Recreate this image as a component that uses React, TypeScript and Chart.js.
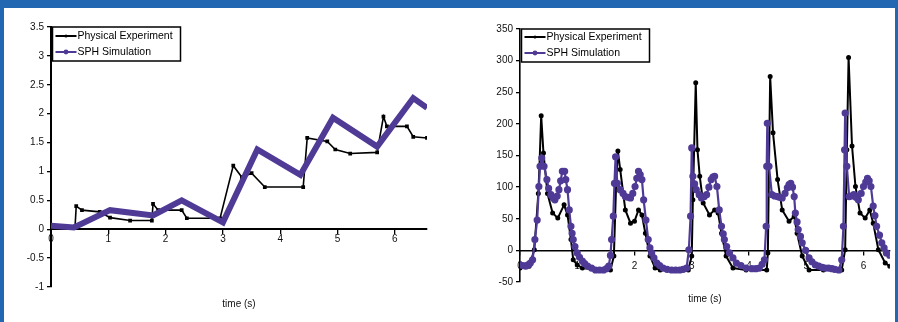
import React, { useEffect, useRef } from "react";
import { Chart, registerables } from "chart.js";

Chart.register(...registerables);

// ---------- Left chart: displacement ----------
const dispExpTime = [0, 0.42, 0.44, 0.54, 0.85, 1.03, 1.38, 1.76, 1.78, 1.87, 2.28, 2.37, 2.95, 3.18, 3.33, 3.5, 3.73, 4.4, 4.47, 4.82, 4.96, 5.22, 5.69, 5.8, 5.86, 6.21, 6.32, 6.56];
const dispExpValue = [0.05, 0.05, 0.4, 0.33, 0.3, 0.2, 0.15, 0.15, 0.44, 0.33, 0.33, 0.19, 0.19, 1.1, 0.9, 0.97, 0.73, 0.73, 1.58, 1.52, 1.38, 1.31, 1.33, 1.95, 1.78, 1.78, 1.6, 1.58];
const dispSimTime = [0, 0.4, 1.03, 1.78, 2.28, 3.0, 3.6, 4.35, 4.92, 5.69, 6.32, 6.56];
const dispSimValue = [0.06, 0.03, 0.33, 0.24, 0.5, 0.12, 1.38, 0.94, 1.93, 1.43, 2.27, 2.1];
const dispYTicks = [-1, -0.5, 0, 0.5, 1, 1.5, 2, 2.5, 3, 3.5];
const dispXTicks = [0, 1, 2, 3, 4, 5, 6];

// ---------- Right chart: pressure ----------
const presExpTime = [0, 0.16, 0.25, 0.32, 0.34, 0.37, 0.41, 0.48, 0.57, 0.66, 0.77, 0.83, 0.89, 0.93, 1.0, 1.09, 1.3, 1.58, 1.64, 1.68, 1.71, 1.75, 1.84, 1.93, 2.0, 2.07, 2.13, 2.19, 2.27, 2.36, 2.45, 2.7, 2.94, 3.0, 3.02, 3.07, 3.1, 3.14, 3.2, 3.31, 3.4, 3.46, 3.52, 3.6, 3.72, 3.95, 4.31, 4.33, 4.35, 4.37, 4.42, 4.5, 4.58, 4.7, 4.79, 4.84, 4.93, 5.05, 5.3, 5.62, 5.68, 5.71, 5.74, 5.8, 5.86, 5.94, 6.03, 6.11, 6.17, 6.26, 6.38, 6.46];
const presExpValue = [-28, -25, 1, 90, 133, 213, 154, 90, 59, 51, 72, 56, 17, -15, -23, -28, -30, -31, -9, 106, 157, 128, 64, 43, 46, 64, 56, 27, -9, -28, -31, -31, -31, -9, 80, 265, 159, 117, 75, 56, 64, 59, 27, -9, -28, -31, -31, -4, 133, 275, 186, 112, 64, 46, 54, 27, -9, -31, -31, -31, 1, 159, 305, 165, 101, 59, 51, 64, 43, 1, -20, -25];
const presSimTime = [0, 0.05, 0.1, 0.14, 0.18, 0.22, 0.26, 0.3, 0.33, 0.35, 0.38, 0.42, 0.47, 0.5, 0.54, 0.58, 0.61, 0.65, 0.68, 0.71, 0.74, 0.78, 0.8, 0.83, 0.86, 0.89, 0.91, 0.93, 0.96, 1.0, 1.04, 1.09, 1.13, 1.18, 1.25, 1.32, 1.39, 1.46, 1.51, 1.55, 1.58, 1.6, 1.63, 1.65, 1.67, 1.7, 1.75, 1.8, 1.84, 1.89, 1.93, 1.97, 2.01, 2.04, 2.07, 2.1, 2.13, 2.16, 2.2, 2.24, 2.27, 2.3, 2.34, 2.39, 2.44, 2.5, 2.57, 2.65, 2.72, 2.79, 2.85, 2.91, 2.95, 2.98, 3.0, 3.02, 3.05, 3.08, 3.13, 3.17, 3.22, 3.26, 3.3, 3.34, 3.37, 3.4, 3.44, 3.48, 3.52, 3.55, 3.57, 3.61, 3.66, 3.72, 3.78, 3.86, 3.95, 4.05, 4.12, 4.18, 4.23, 4.27, 4.3, 4.31, 4.32, 4.35, 4.4, 4.45, 4.5, 4.54, 4.58, 4.63, 4.67, 4.7, 4.73, 4.76, 4.79, 4.81, 4.84, 4.86, 4.9, 4.93, 4.99, 5.05, 5.1, 5.16, 5.22, 5.28, 5.33, 5.39, 5.45, 5.5, 5.57, 5.62, 5.65, 5.67, 5.68, 5.71, 5.75, 5.79, 5.83, 5.87, 5.91, 5.96, 6.0, 6.04, 6.07, 6.1, 6.13, 6.17, 6.2, 6.23, 6.28, 6.32, 6.36, 6.4, 6.46];
const presSimValue = [-23, -24, -25, -23, -20, -15, 17, 48, 101, 133, 146, 133, 112, 98, 88, 83, 80, 86, 96, 110, 125, 125, 112, 96, 64, 38, 27, 17, 6, -4, -11, -17, -21, -25, -28, -31, -31, -31, -29, -25, -8, 17, 54, 106, 148, 106, 96, 90, 85, 84, 83, 90, 101, 114, 125, 120, 112, 80, 48, 17, 4, -4, -12, -20, -24, -28, -30, -31, -31, -31, -30, -28, 1, 54, 162, 117, 105, 96, 88, 83, 85, 88, 100, 112, 116, 117, 101, 64, 38, 26, 17, 6, -4, -12, -20, -24, -28, -29, -29, -28, -22, -15, 38, 133, 201, 133, 88, 86, 85, 84, 83, 90, 99, 104, 106, 100, 85, 59, 45, 33, 22, 12, 0, -12, -18, -23, -25, -27, -28, -28, -29, -30, -31, -15, 38, 159, 217, 133, 85, 86, 88, 84, 80, 90, 101, 108, 114, 110, 101, 70, 55, 38, 24, 12, 4, -4, -8];
const presYTicks = [-50, 0, 50, 100, 150, 200, 250, 300, 350];
const presXTicks = [0, 1, 2, 3, 4, 5, 6];

const seriesLabels = ["Physical Experiment", "SPH Simulation"];
const axisTitle = "time (s)";

const FONT = "'Liberation Sans', Arial, sans-serif";
const BLUE = "#2167b1";
const PURPLE = "#4f3a96";

const zip = (xs: number[], ys: number[]) => xs.map((x, i) => ({ x, y: ys[i] }));

const boxLegend = {
  id: "boxLegend",
  afterDraw(chart: any, _a: any, opts: any) {
    const { ctx, chartArea } = chart;
    const x = chartArea.left + opts.dx;
    const y = chartArea.top + opts.dy;
    ctx.save();
    ctx.fillStyle = "#fff";
    ctx.fillRect(x, y, opts.w, opts.h);
    ctx.strokeStyle = "#000";
    ctx.lineWidth = 1.5;
    ctx.strokeRect(x, y, opts.w, opts.h);
    ctx.font = `10.5px ${FONT}`;
    ctx.textBaseline = "middle";
    chart.data.datasets.forEach((ds: any, i: number) => {
      const cy = y + opts.rowTop + i * opts.rowGap;
      ctx.strokeStyle = ds.borderColor;
      ctx.lineWidth = 2;
      ctx.beginPath();
      ctx.moveTo(x + 3, cy);
      ctx.lineTo(x + 24, cy);
      ctx.stroke();
      ctx.fillStyle = ds.borderColor;
      ctx.beginPath();
      ctx.arc(x + 13.5, cy, i === 0 ? 1.6 : 2.4, 0, Math.PI * 2);
      ctx.fill();
      ctx.fillStyle = "#000";
      ctx.fillText(ds.label, x + 25, cy + 0.5);
    });
    ctx.restore();
  },
};

function makeScales(o: any) {
  const tickFont = { family: FONT, size: 10 };
  return {
    x: {
      type: "linear",
      position: { y: 0 },
      min: o.xMin,
      max: o.xMax,
      afterBuildTicks: (s: any) => {
        s.ticks = o.xTicks.map((v: number) => ({ value: v }));
      },
      ticks: { color: "#111", font: tickFont, padding: o.xPad, maxRotation: 0, autoSkip: false, callback: (v: number) => String(v) },
      grid: { drawOnChartArea: false, drawTicks: true, tickLength: 4, color: "#000", lineWidth: 1.3 },
      border: { color: "#000", width: o.axisWidth },
    },
    x2: {
      type: "linear",
      position: "bottom",
      afterFit: (s: any) => {
        s.height = 27;
      },
      ticks: { display: false },
      grid: { display: false, drawTicks: false },
      border: { display: false },
      title: { display: true, text: axisTitle, color: "#111", font: { family: FONT, size: 10 }, padding: { top: 0, bottom: 4 } },
    },
    y: {
      type: "linear",
      position: "left",
      min: o.yMin,
      max: o.yMax,
      afterFit: (s: any) => {
        s.width = 40;
      },
      afterBuildTicks: (s: any) => {
        s.ticks = o.yTicks.map((v: number) => ({ value: v }));
      },
      ticks: { color: "#111", font: tickFont, padding: 3, callback: (v: number) => String(v) },
      grid: { drawOnChartArea: false, drawTicks: true, tickLength: 4, color: "#000", lineWidth: 1.3 },
      border: { color: "#000", width: o.axisWidth },
    },
  };
}

function ChartBox(props: { cfg: () => any; style: React.CSSProperties; w: number; h: number }) {
  const ref = useRef<HTMLCanvasElement>(null);
  useEffect(() => {
    const chart = new Chart(ref.current as HTMLCanvasElement, props.cfg());
    return () => chart.destroy();
  }, []);
  return (
    <div style={{ position: "absolute", width: props.w, height: props.h, ...props.style }}>
      <canvas ref={ref} width={props.w} height={props.h} style={{ width: props.w, height: props.h, display: "block" }} />
    </div>
  );
}

const leftCfg = () => ({
  type: "line",
  data: {
    datasets: [
      {
        label: seriesLabels[0],
        data: zip(dispExpTime, dispExpValue),
        borderColor: "#000",
        backgroundColor: "#000",
        borderWidth: 1.6,
        pointRadius: 1.5,
        pointStyle: "rect",
        tension: 0,
        order: 2,
      },
      {
        label: seriesLabels[1],
        data: zip(dispSimTime, dispSimValue),
        borderColor: PURPLE,
        backgroundColor: PURPLE,
        borderWidth: 6,
        pointRadius: 0,
        tension: 0,
        borderJoinStyle: "miter",
        order: 1,
      },
    ],
  },
  options: {
    responsive: false,
    animation: false,
    layout: { padding: { left: 5, top: 19, right: 9, bottom: 8 } },
    plugins: {
      legend: { display: false },
      tooltip: { enabled: false },
      boxLegend: { dx: 1.5, dy: 0, w: 128, h: 34, rowTop: 9, rowGap: 16 },
    },
    scales: makeScales({ xMin: 0, xMax: 6.56, xTicks: dispXTicks, yMin: -1, yMax: 3.5, yTicks: dispYTicks, xPad: 0, axisWidth: 2 }),
  },
  plugins: [boxLegend],
});

const rightCfg = () => ({
  type: "line",
  data: {
    datasets: [
      {
        label: seriesLabels[0],
        data: zip(presExpTime, presExpValue),
        borderColor: "#000",
        backgroundColor: "#000",
        borderWidth: 2,
        pointRadius: 1.5,
        tension: 0,
        order: 2,
      },
      {
        label: seriesLabels[1],
        data: zip(presSimTime, presSimValue),
        borderColor: PURPLE,
        backgroundColor: PURPLE,
        borderWidth: 2.2,
        pointRadius: 2.5,
        tension: 0,
        order: 1,
      },
    ],
  },
  options: {
    responsive: false,
    animation: false,
    layout: { padding: { left: 14, top: 21, right: 3, bottom: 13 } },
    plugins: {
      legend: { display: false },
      tooltip: { enabled: false },
      boxLegend: { dx: 1.5, dy: 0, w: 128, h: 33, rowTop: 8, rowGap: 16 },
    },
    scales: makeScales({ xMin: 0, xMax: 6.46, xTicks: presXTicks, yMin: -50, yMax: 350, yTicks: presYTicks, xPad: 6, axisWidth: 1.6 }),
  },
  plugins: [boxLegend],
});

export default function App() {
  return (
    <div style={{ position: "fixed", left: 0, top: 0, width: 898, height: 322, background: "#fff", overflow: "hidden" }}>
      <ChartBox cfg={leftCfg} w={430} h={314} style={{ left: 6, top: 8 }} />
      <ChartBox cfg={rightCfg} w={430} h={314} style={{ left: 466, top: 8 }} />
      <div style={{ position: "absolute", left: 0, top: 0, width: 898, height: 8, background: BLUE }} />
      <div style={{ position: "absolute", left: 0, top: 0, width: 4, height: 322, background: BLUE }} />
      <div style={{ position: "absolute", right: 0, top: 0, width: 3, height: 322, background: BLUE }} />
    </div>
  );
}
